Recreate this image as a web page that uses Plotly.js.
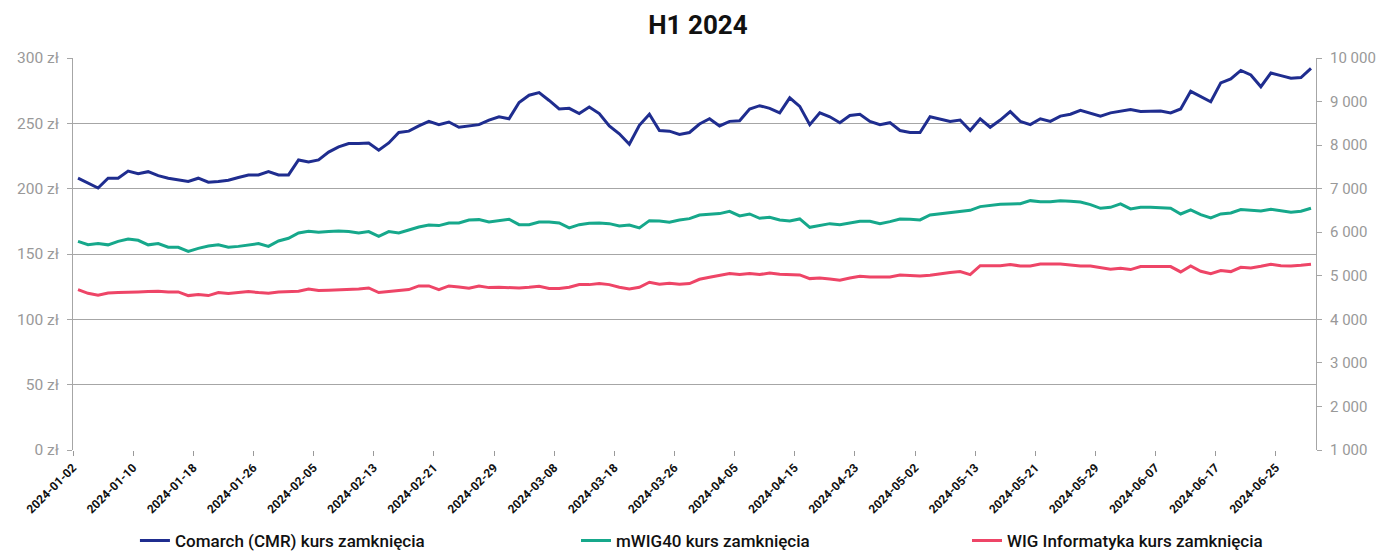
<!DOCTYPE html>
<html>
<head>
<meta charset="utf-8">
<script src="https://cdn.plot.ly/plotly-3.0.1.min.js"></script>
<style>html,body{margin:0;padding:0;background:#fff;}#chart{width:1384px;height:552px;}</style>
</head>
<body>
<div id="chart"></div>
<script>
const dates = [
"2024-01-02","2024-01-03","2024-01-04","2024-01-05","2024-01-08","2024-01-09","2024-01-10","2024-01-11","2024-01-12","2024-01-15","2024-01-16","2024-01-17","2024-01-18","2024-01-19","2024-01-22","2024-01-23","2024-01-24","2024-01-25","2024-01-26","2024-01-29","2024-01-30","2024-01-31",
"2024-02-01","2024-02-02","2024-02-05","2024-02-06","2024-02-07","2024-02-08","2024-02-09","2024-02-12","2024-02-13","2024-02-14","2024-02-15","2024-02-16","2024-02-19","2024-02-20","2024-02-21","2024-02-22","2024-02-23","2024-02-26","2024-02-27","2024-02-28","2024-02-29",
"2024-03-01","2024-03-04","2024-03-05","2024-03-06","2024-03-07","2024-03-08","2024-03-11","2024-03-12","2024-03-13","2024-03-14","2024-03-15","2024-03-18","2024-03-19","2024-03-20","2024-03-21","2024-03-22","2024-03-25","2024-03-26","2024-03-27","2024-03-28",
"2024-04-02","2024-04-03","2024-04-04","2024-04-05","2024-04-08","2024-04-09","2024-04-10","2024-04-11","2024-04-12","2024-04-15","2024-04-16","2024-04-17","2024-04-18","2024-04-19","2024-04-22","2024-04-23","2024-04-24","2024-04-25","2024-04-26","2024-04-29","2024-04-30",
"2024-05-02","2024-05-06","2024-05-07","2024-05-08","2024-05-09","2024-05-10","2024-05-13","2024-05-14","2024-05-15","2024-05-16","2024-05-17","2024-05-20","2024-05-21","2024-05-22","2024-05-23","2024-05-24","2024-05-27","2024-05-28","2024-05-29","2024-05-31",
"2024-06-03","2024-06-04","2024-06-05","2024-06-06","2024-06-07","2024-06-10","2024-06-11","2024-06-12","2024-06-13","2024-06-14","2024-06-17","2024-06-18","2024-06-19","2024-06-20","2024-06-21","2024-06-24","2024-06-25","2024-06-26","2024-06-27","2024-06-28"
];

const tickDates = ["2024-01-02","2024-01-10","2024-01-18","2024-01-26","2024-02-05","2024-02-13","2024-02-21","2024-02-29","2024-03-08","2024-03-18","2024-03-26","2024-04-05","2024-04-15","2024-04-23","2024-05-02","2024-05-13","2024-05-21","2024-05-29","2024-06-07","2024-06-17","2024-06-25"];

const comarch = [
208,204,200.5,208,208,213.5,211.5,213,210,208,206.5,205.5,208,205,205.5,206.5,208.5,210.5,210.5,213,210.5,
210.5,222,220.5,222,228,232,234.5,234.5,235,229.5,235,243,244,248,251.5,249,251,247,248,249,252.5,
255,253.5,266,271.5,273.5,267.5,261,261.5,257.5,262.5,257.5,248,242,234,248.5,257,244.5,244,241.5,243,249.5,
253.5,248,251.5,252,261,263.5,261.5,258,269.5,263,249,258,255,250.5,256,257,251.5,249,250.5,244.5,243,
243,255,253,251.5,252.5,244.5,253.5,247,252.5,259,251.5,249,253.5,251.5,255.5,257,260,257.5,255.5,258,
259.5,260.5,259,259.5,259.5,258,261,274.5,270.5,266.5,281,284,290.5,287,278,288.5,286.5,284.5,285,292
];

const mwig40 = [
5790,5715,5740,5710,5790,5845,5815,5710,5740,5655,5655,5560,5630,5685,5710,5655,5675,5710,5740,5675,5800,
5860,5983,6021,5998,6014,6029,6014,5983,6014,5907,6014,5983,6052,6121,6167,6152,6213,6213,6282,6289,6236,
6266,6297,6174,6174,6236,6236,6213,6098,6174,6205,6213,6197,6144,6167,6098,6266,6259,6228,6282,6312,6396,
6404,6427,6481,6373,6419,6320,6343,6282,6259,6305,6113,6159,6197,6174,6220,6251,6251,6197,6243,6305,6297,
6282,6396,6419,6442,6473,6503,6588,6618,6641,6649,6656,6725,6702,6702,6725,6710,6695,6634,6549,6572,
6649,6534,6572,6572,6557,6549,6419,6511,6404,6327,6419,6442,6519,6511,6488,6526,6488,6458,6481,6549
];

const wigInfo = [
4683,4598,4552,4606,4614,4629,4629,4637,4644,4629,4629,4545,4568,4545,4614,4591,4614,4637,4614,4598,4629,
4629,4644,4698,4660,4667,4675,4683,4698,4721,4614,4637,4660,4683,4767,4767,4683,4767,4744,4713,4767,4728,
4736,4721,4721,4736,4759,4706,4706,4736,4797,4797,4820,4797,4736,4698,4736,4851,4805,4828,4805,4820,4920,
4966,5004,5050,5027,5050,5027,5065,5034,5019,5019,4935,4950,4927,4897,4950,4989,4973,4973,4973,5019,5004,
4996,5012,5050,5073,5096,5027,5233,5233,5233,5256,5226,5226,5272,5272,5272,5249,5226,5226,5180,5149,
5172,5142,5211,5211,5211,5211,5088,5226,5104,5050,5119,5096,5195,5180,5218,5264,5233,5226,5241,5264
];

const seriesNames = ["Comarch (CMR) kurs zamknięcia","mWIG40 kurs zamknięcia","WIG Informatyka kurs zamknięcia"];
const leftTicks = [0,50,100,150,200,250,300];
const rightTicks = [1000,2000,3000,4000,5000,6000,7000,8000,9000,10000];

// one slot per trading day; ticks sit on slot boundaries like the source
const pos = dates.map((d, i) => i);
const tickPos = tickDates.map(d => dates.indexOf(d) - 0.5);

const traces = [
  {x: pos, y: comarch, text: dates, name: seriesNames[0], type: 'scatter', mode: 'lines', yaxis: 'y',
   line: {color: '#1f2d8f', width: 3}, legend: 'legend'},
  {x: pos, y: mwig40, text: dates, name: seriesNames[1], type: 'scatter', mode: 'lines', yaxis: 'y2',
   line: {color: '#16a88b', width: 3}, legend: 'legend2'},
  {x: pos, y: wigInfo, text: dates, name: seriesNames[2], type: 'scatter', mode: 'lines', yaxis: 'y2',
   line: {color: '#ee4567', width: 3}, legend: 'legend3'}
];

const legendFont = {family: 'Roboto, sans-serif', size: 17, color: '#111', weight: 500};
const legendBase = {orientation: 'h', xref: 'container', yref: 'container',
  yanchor: 'middle', y: 0.02, xanchor: 'left',
  font: legendFont, bgcolor: 'rgba(0,0,0,0)'};

const layout = {
  width: 1384, height: 552,
  margin: {l: 73, r: 68, t: 58, b: 102, autoexpand: false},
  paper_bgcolor: '#fff', plot_bgcolor: '#fff',
  separators: ', ',
  showlegend: true,
  title: {text: 'H1 2024', x: 0.5043, xanchor: 'center', y: 0.955, yanchor: 'middle',
    font: {family: 'Roboto, sans-serif', size: 26, color: '#111', weight: 700}},
  xaxis: {
    type: 'linear', tickmode: 'array', tickvals: tickPos, ticktext: tickDates,
    tickangle: -45, ticks: 'outside', ticklen: 5, tickcolor: '#9a9a9a',
    showline: false, showgrid: false, zeroline: false, automargin: false,
    tickfont: {family: 'Roboto, sans-serif', size: 12, color: '#111', weight: 700},
    range: [-0.5, dates.length - 0.5]
  },
  yaxis: {
    range: [0, 300], tickmode: 'array', tickvals: leftTicks,
    ticktext: leftTicks.map(v => v + ' zł'), automargin: false,
    showgrid: true, gridcolor: '#a6a6a6', gridwidth: 1,
    showline: true, linecolor: '#a6a6a6', ticks: 'outside', ticklen: 5, tickcolor: '#a6a6a6',
    zeroline: false, ticklabelstandoff: 5,
    tickfont: {family: 'Roboto, sans-serif', size: 15.5, color: '#999999'}
  },
  yaxis2: {
    range: [1000, 10000], overlaying: 'y', side: 'right', tickmode: 'array', tickvals: rightTicks,
    tickformat: ',d', showgrid: false, showline: true, linecolor: '#a6a6a6', automargin: false,
    ticks: 'outside', ticklen: 5, tickcolor: '#a6a6a6', zeroline: false, ticklabelstandoff: 5,
    tickfont: {family: 'Roboto, sans-serif', size: 15, color: '#999999'}
  },
  legend: Object.assign({}, legendBase, {x: 0.0975}),
  legend2: Object.assign({}, legendBase, {x: 0.4162}),
  legend3: Object.assign({}, legendBase, {x: 0.6987})
};

Plotly.newPlot('chart', traces, layout, {displayModeBar: false, staticPlot: true});
</script>
</body>
</html>
